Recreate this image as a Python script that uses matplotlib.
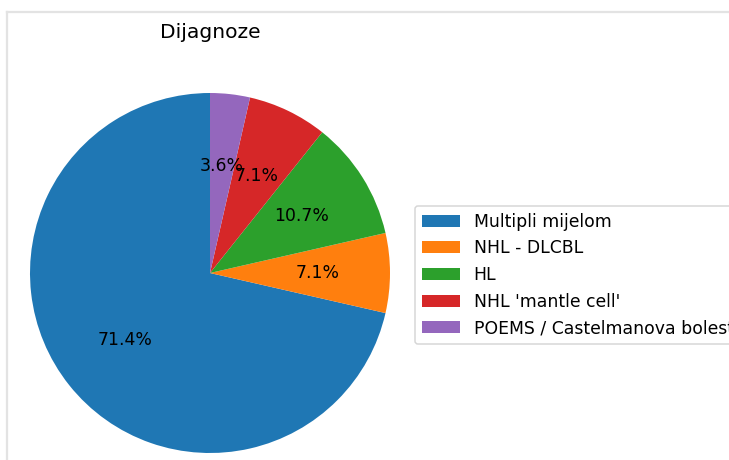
import numpy as np
import matplotlib.pyplot as plt
from matplotlib.lines import Line2D

labels = ["Multipli mijelom", "NHL - DLCBL", "HL", "NHL 'mantle cell'",
          "POEMS / Castelmanova bolest"]
counts = [20, 2, 3, 2, 1]
title = "Dijagnoze"

W, H = 729, 460
fig = plt.figure(figsize=(W / 108, H / 108), dpi=108)

# pie axes, placed in pixels
ax = fig.add_axes([30 / W, 7 / H, 360 / W, 360 / H])
wedges, texts, autotexts = ax.pie(counts, autopct="%1.1f%%", startangle=90,
                                  textprops={"fontsize": 11.5})
ax.set_xlim(-1, 1)
ax.set_ylim(-1, 1)
ax.set_aspect("equal")

fig.text(210 / W, 1 - 33 / H, title, ha="center", va="center", fontsize=13.5)

fig.legend(wedges, labels, loc="center left",
           bbox_to_anchor=(415 / W, 1 - 275 / H), borderaxespad=0,
           fontsize=11.5, handlelength=2.2)

# thin grey frame from the screenshot
fig.add_artist(Line2D([7 / W, 1], [1 - 12 / H, 1 - 12 / H], color="#e3e3e3", lw=1.5))
fig.add_artist(Line2D([7 / W, 7 / W], [0, 1 - 12 / H], color="#e3e3e3", lw=1.5))

fig.savefig("out.png", dpi=108)
